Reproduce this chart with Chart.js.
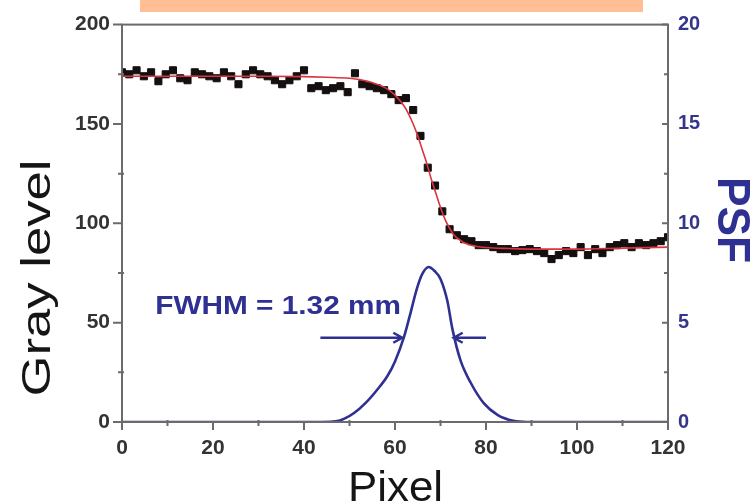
<!DOCTYPE html>
<html>
<head>
<meta charset="utf-8">
<script src="https://cdn.jsdelivr.net/npm/chart.js@4.4.1/dist/chart.umd.min.js"></script>
<style>
  html, body { margin: 0; padding: 0; background: #ffffff; }
  #wrap { position: relative; width: 754px; height: 504px; }
  #banner { position: absolute; left: 140px; top: 0; width: 503px; height: 12px; background: #FFBE93; }
  canvas { position: absolute; left: 0; top: 0; }
</style>
</head>
<body>
<div id="wrap">
  <canvas id="c" width="754" height="504"></canvas>
  <div id="banner"></div>
</div>
<script>
// ---- data ----
const pixelX = [0,1.6,3.2,4.8,6.4,8,9.6,11.2,12.8,14.4,16,17.6,19.2,20.8,22.4,24,25.6,27.2,28.8,30.4,
  32,33.6,35.2,36.8,38.4,40,41.6,43.2,44.8,46.4,48,49.6,51.2,52.8,54.4,56,57.6,59.2,60.8,62.4,
  64,65.6,67.2,68.8,70.4,72,73.6,75.2,76.8,78.4,80,81.6,83.2,84.8,86.4,88,89.6,91.2,92.8,94.4,
  96,97.6,99.2,100.8,102.4,104,105.6,107.2,108.8,110.4,112,113.6,115.2,116.8,118.4,120];
const grayLevel = [176,175,177,174,176,171.5,175,177,173,172,176,175,174,173,176,174,170,175,177,175,
  174,172,170,172,174,177,168,169,167,168,169,166,175.5,170,169,168,167,165,162,163,
  157,144,128,119,106,97,94,92,91,89,89,88,87,87,86,86.5,87,86,85,82,
  84,86,85,88,84,87,85,88,89,90,88,90,89,90,91,93];

const fitX    = [0,10,20,30,40,45,50,54,56,58,60,62,63,64,65,66,67,68,69,70,71,72,73,74,75,76,78,80,85,90,100,110,120];
const fitGray = [174,174,174,174,173.8,173.5,173,171.5,170,168,164.5,159,155,150,144,137,130,122,115,108,102,97.5,94,92,90.5,89.5,88.3,87.8,87.3,87,87,87.5,88];

const psfX     = [0,44,47,49,51,53.5,56,58.3,60,62,63.2,64.8,66,67.4,68.7,70,71.5,72.6,74.4,76.7,79.5,82.6,86,89,120];
const psfValue = [0,0,0.03,0.18,0.45,0.95,1.6,2.3,3.05,4.3,5.3,6.7,7.45,7.8,7.6,7.2,6.1,4.7,3.1,1.95,0.95,0.35,0.06,0,0];

const xTicks = [0,20,40,60,80,100,120];
const xMinor = [10,30,50,70,90,110];
const yTicks = [0,50,100,150,200];
const yMinor = [25,75,125,175];
const y2Ticks = [0,5,10,15,20];
const y2Minor = [2.5,7.5,12.5,17.5];

const fwhmText = 'FWHM = 1.32 mm';

// ---- styling ----
const FONT = "'Liberation Sans', Arial, sans-serif";
const NAVY = '#2f3192';
const AXIS = '#6b6b6b';

const pts = (xs, ys) => xs.map((v, i) => ({ x: v, y: ys[i] }));

function stretchText(ctx, text, font, targetW, x, y, rot, color) {
  ctx.save();
  ctx.font = font;
  ctx.fillStyle = color;
  const w = ctx.measureText(text).width;
  ctx.translate(x, y);
  ctx.rotate(rot);
  ctx.scale(targetW / w, 1);
  ctx.textAlign = 'center';
  ctx.textBaseline = 'alphabetic';
  ctx.fillText(text, 0, 0);
  ctx.restore();
}

function arrow(ctx, x1, y1, x2, y2) {
  ctx.beginPath();
  ctx.moveTo(x1, y1); ctx.lineTo(x2, y2);
  const dir = Math.sign(x2 - x1);
  ctx.moveTo(x2 - dir * 9, y2 - 5);
  ctx.lineTo(x2, y2);
  ctx.lineTo(x2 - dir * 9, y2 + 5);
  ctx.stroke();
}

const decor = {
  id: 'decor',
  afterDraw(chart) {
    const { ctx, chartArea: a, scales: { x, y, y2 } } = chart;
    ctx.save();
    ctx.strokeStyle = AXIS;
    ctx.lineWidth = 2;
    ctx.strokeRect(a.left, a.top, a.right - a.left, a.bottom - a.top);
    ctx.beginPath();
    xTicks.forEach(v => { const p = x.getPixelForValue(v); ctx.moveTo(p, a.bottom); ctx.lineTo(p, a.bottom + 8); });
    xMinor.forEach(v => { const p = x.getPixelForValue(v); ctx.moveTo(p, a.bottom - 2); ctx.lineTo(p, a.bottom + 4); });
    yTicks.forEach(v => { const p = y.getPixelForValue(v); ctx.moveTo(a.left, p); ctx.lineTo(a.left - 9, p); });
    yMinor.forEach(v => { const p = y.getPixelForValue(v); ctx.moveTo(a.left + 2, p); ctx.lineTo(a.left - 4, p); });
    y2Ticks.forEach(v => { const p = y2.getPixelForValue(v); ctx.moveTo(a.right, p); ctx.lineTo(a.right - 6, p); });
    y2Minor.forEach(v => { const p = y2.getPixelForValue(v); ctx.moveTo(a.right + 1, p); ctx.lineTo(a.right - 4, p); });
    ctx.stroke();

    // FWHM arrows
    ctx.strokeStyle = NAVY;
    ctx.lineWidth = 2.5;
    const ay = y2.getPixelForValue(4.24);
    arrow(ctx, x.getPixelForValue(43.6), ay, x.getPixelForValue(61.6), ay);
    arrow(ctx, x.getPixelForValue(80), ay, x.getPixelForValue(72.9), ay);

    // FWHM label
    const tx0 = x.getPixelForValue(7.3), tx1 = x.getPixelForValue(61.3);
    stretchText(ctx, fwhmText, 'bold 25px ' + FONT, tx1 - tx0, (tx0 + tx1) / 2, y2.getPixelForValue(5.45), 0, NAVY);

    // axis titles
    stretchText(ctx, 'Gray level', '40px ' + FONT, 237, 50, 278, -Math.PI / 2, '#151515');
    stretchText(ctx, 'Pixel', '42px ' + FONT, 95, 395.5, 501, 0, '#151515');
    stretchText(ctx, 'PSF', 'bold 46px ' + FONT, 86, 718, 220, Math.PI / 2, NAVY);
    ctx.restore();
  }
};

new Chart(document.getElementById('c'), {
  type: 'scatter',
  data: {
    datasets: [
      {
        label: 'Gray level',
        data: pts(pixelX, grayLevel),
        yAxisID: 'y',
        showLine: false,
        pointStyle: 'rect',
        pointRadius: 5,
        borderWidth: 1,
        backgroundColor: '#111111',
        borderColor: '#1a0b0b',
        order: 2
      },
      {
        label: 'Fit',
        data: pts(fitX, fitGray),
        yAxisID: 'y',
        showLine: true,
        pointRadius: 0,
        borderColor: '#d9343f',
        borderWidth: 1.6,
        cubicInterpolationMode: 'monotone',
        order: 1
      },
      {
        label: 'PSF',
        data: pts(psfX, psfValue),
        yAxisID: 'y2',
        showLine: true,
        pointRadius: 0,
        borderColor: NAVY,
        borderWidth: 2.6,
        cubicInterpolationMode: 'monotone',
        order: 0
      }
    ]
  },
  options: {
    responsive: false,
    animation: false,
    layout: { padding: { top: 21, left: 0, right: 0, bottom: 0 } },
    plugins: { legend: { display: false }, tooltip: { enabled: false } },
    scales: {
      x: {
        type: 'linear', position: 'bottom', min: 0, max: 120,
        afterBuildTicks: s => { s.ticks = xTicks.map(v => ({ value: v })); },
        afterFit: s => { s.height = 82; },
        grid: { display: false, drawTicks: false },
        border: { display: false },
        ticks: { padding: 14, color: '#333333', font: { family: FONT, size: 21, weight: 'bold' }, maxRotation: 0 }
      },
      y: {
        type: 'linear', position: 'left', min: 0, max: 200,
        afterBuildTicks: s => { s.ticks = yTicks.map(v => ({ value: v })); },
        afterFit: s => { s.width = 122; },
        grid: { display: false, drawTicks: false },
        border: { display: false },
        ticks: { padding: 12, color: '#333333', font: { family: FONT, size: 21, weight: 'bold' } }
      },
      y2: {
        type: 'linear', position: 'right', min: 0, max: 20,
        afterBuildTicks: s => { s.ticks = y2Ticks.map(v => ({ value: v })); },
        afterFit: s => { s.width = 86; },
        grid: { display: false, drawTicks: false },
        border: { display: false },
        ticks: { padding: 10, color: '#35358a', font: { family: FONT, size: 20, weight: 'bold' } }
      }
    }
  },
  plugins: [decor]
});
</script>
</body>
</html>
